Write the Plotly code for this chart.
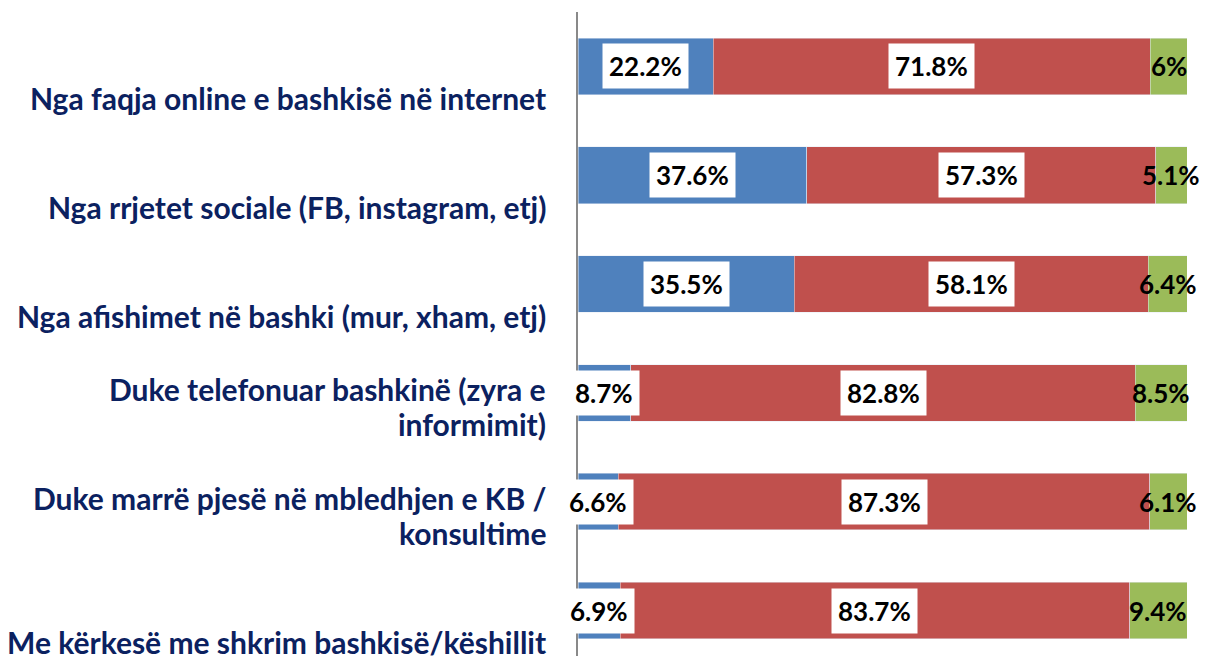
import plotly.graph_objects as go

categories = [
    "Nga faqja online e bashkisë në internet",
    "Nga rrjetet sociale (FB, instagram, etj)",
    "Nga afishimet në bashki (mur, xham, etj)",
    "Duke telefonuar bashkinë (zyra e\ninformimit)",
    "Duke marrë pjesë në mbledhjen e KB /\nkonsultime",
    "Me kërkesë me shkrim bashkisë/këshillit",
]
blue_vals = [22.2, 37.6, 35.5, 8.7, 6.6, 6.9]
red_vals = [71.8, 57.3, 58.1, 82.8, 87.3, 83.7]
green_vals = [6, 5.1, 6.4, 8.5, 6.1, 9.4]

BLUE, RED, GREEN = "#4F81BD", "#C0504D", "#9BBB59"
NAVY = "#0B2160"
FONT = "Lato"

ypos = list(range(len(categories)))

fig = go.Figure()
for vals, col in ((blue_vals, BLUE), (red_vals, RED), (green_vals, GREEN)):
    fig.add_trace(go.Bar(y=ypos, x=vals, orientation="h", marker_color=col, width=0.52,
                         showlegend=False, hoverinfo="skip"))

annotations = []
lab_font = dict(family=FONT, size=26, color="black", weight="bold")
for i, (b, r, g) in enumerate(zip(blue_vals, red_vals, green_vals)):
    annotations.append(dict(x=b / 2, y=i, xref="x", yref="y", text=f"{b:g}%", showarrow=False,
                            font=lab_font, bgcolor="white", borderpad=6))
    annotations.append(dict(x=b + r / 2, y=i, xref="x", yref="y", text=f"{r:g}%", showarrow=False,
                            font=lab_font, bgcolor="white", borderpad=6))
    annotations.append(dict(x=b + r + g / 2, y=i, xref="x", yref="y", text=f"{g:g}%", showarrow=False,
                            font=lab_font))

cat_font = dict(family=FONT, size=30, color=NAVY, weight="bold")
for i, cat in enumerate(categories):
    lines = cat.split("\n")
    n = len(lines)
    for k, line in enumerate(lines):
        off = 0.29 - (n - 1 - k) * 0.322
        annotations.append(dict(x=-0.049, y=i + off, xref="paper", yref="y", text=line, showarrow=False,
                                xanchor="right", yanchor="middle", font=cat_font))

fig.update_layout(
    barmode="stack",
    width=1205, height=656,
    margin=dict(l=578, r=18, t=0, b=0),
    plot_bgcolor="white", paper_bgcolor="white",
    annotations=annotations,
    xaxis=dict(range=[0, 100], visible=False, fixedrange=True),
    yaxis=dict(range=[5.418, -0.5], showticklabels=False, showgrid=False, zeroline=False,
               showline=True, linecolor="#898989", linewidth=1.5, ticks="", fixedrange=True),
)
fig.update_yaxes(domain=[0, 1 - 12 / 656])

fig.write_html("out.html", config={"displayModeBar": False},
               post_script="document.body.style.margin='0';document.body.style.overflow='hidden';")
